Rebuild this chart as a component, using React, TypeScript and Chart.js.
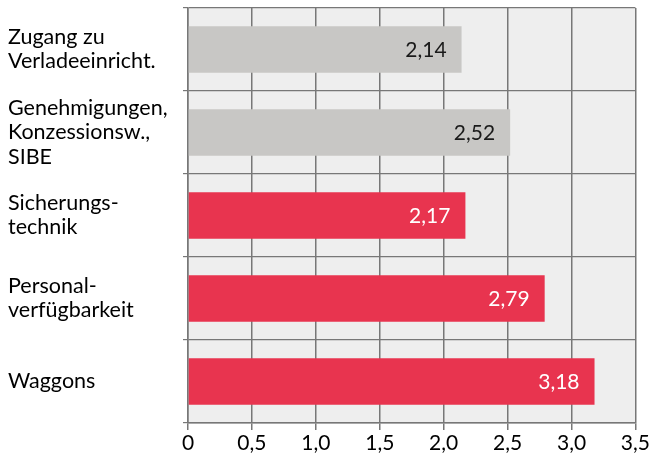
import React, { useEffect, useRef } from "react";
import { Chart, registerables } from "chart.js";

Chart.register(...registerables);

const categories: string[][] = [
  ["Zugang zu", "Verladeeinricht."],
  ["Genehmigungen,", "Konzessionsw.,", "SIBE"],
  ["Sicherungs-", "technik"],
  ["Personal-", "verfügbarkeit"],
  ["Waggons"],
];
const values: number[] = [2.14, 2.52, 2.17, 2.79, 3.18];
const valueLabels: string[] = ["2,14", "2,52", "2,17", "2,79", "3,18"];
const barColors: string[] = ["#c8c7c5", "#c8c7c5", "#e8344f", "#e8344f", "#e8344f"];
const labelColors: string[] = ["#1a1a1a", "#1a1a1a", "#ffffff", "#ffffff", "#ffffff"];
const xTicks: string[] = ["0", "0,5", "1,0", "1,5", "2,0", "2,5", "3,0", "3,5"];

const FONT = "Lato, 'Open Sans', sans-serif";

const bgPlugin = {
  id: "plotBg",
  beforeDraw(chart: any) {
    const { ctx, chartArea } = chart;
    ctx.save();
    ctx.fillStyle = "#eeeeee";
    ctx.fillRect(chartArea.left, chartArea.top, chartArea.right - chartArea.left, chartArea.bottom - chartArea.top);
    ctx.restore();
  },
};

const valuePlugin = {
  id: "valueLabels",
  afterDatasetsDraw(chart: any) {
    const { ctx } = chart;
    const meta = chart.getDatasetMeta(0);
    ctx.save();
    ctx.font = `21px ${FONT}`;
    ctx.textAlign = "right";
    ctx.textBaseline = "middle";
    meta.data.forEach((el: any, i: number) => {
      ctx.fillStyle = labelColors[i];
      ctx.fillText(valueLabels[i], el.x - 15, el.y + 1);
    });
    ctx.restore();
  },
};

export default function App() {
  const ref = useRef<HTMLCanvasElement>(null);
  useEffect(() => {
    const chart = new Chart(ref.current!, {
      type: "bar",
      data: {
        labels: categories,
        datasets: [
          {
            data: values,
            backgroundColor: barColors,
            barPercentage: 0.56,
            categoryPercentage: 1,
          },
        ],
      },
      options: {
        indexAxis: "y",
        animation: false,
        responsive: false,
        layout: { padding: { top: 8, right: 15, left: 8, bottom: 0 } },
        plugins: { legend: { display: false }, tooltip: { enabled: false } },
        scales: {
          x: {
            min: 0,
            max: 3.5,
            ticks: {
              stepSize: 0.5,
              color: "#000",
              font: { family: FONT, size: 21 },
              padding: 1,
              callback: (_v: any, i: number) => xTicks[i],
            },
            grid: { color: "#777777", lineWidth: 1.5, tickLength: 7 },
            border: { color: "#777777", width: 1.5 },
            afterFit: (s: any) => {
              s.height = 37;
            },
          },
          y: {
            ticks: {
              color: "#000",
              font: { family: FONT, size: 21.5, lineHeight: 1.12 },
              crossAlign: "far",
              padding: 4,
            },
            grid: { offset: true, color: "#777777", lineWidth: 1.2, tickLength: 5 },
            border: { color: "#777777", width: 1.5 },
            afterFit: (s: any) => {
              s.width = 180;
              s.paddingTop = 0;
              s.paddingBottom = 0;
            },
          },
        },
      },
      plugins: [bgPlugin, valuePlugin],
    });
    return () => chart.destroy();
  }, []);
  return (
    <div style={{ position: "absolute", left: 0, top: 0, width: 651, height: 460, background: "#fff" }}>
      <canvas ref={ref} width={651} height={460} />
    </div>
  );
}
